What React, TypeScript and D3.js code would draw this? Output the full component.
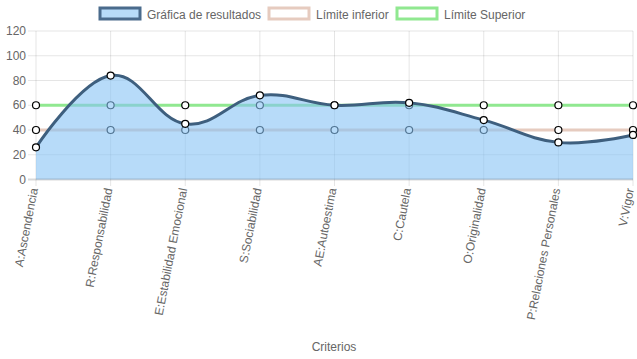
import { useEffect, useRef } from 'react'
import * as d3 from 'd3'

const categories = [
  'A:Ascendencia',
  'R:Responsabilidad',
  'E:Estabilidad Emocional',
  'S:Sociabilidad',
  'AE:Autoestima',
  'C:Cautela',
  'O:Originalidad',
  'P:Relaciones Personales',
  'V:Vigor',
]
const resultados = [26, 84, 45, 68, 60, 62, 48, 30, 36]
const limiteInferior = [40, 40, 40, 40, 40, 40, 40, 40, 40]
const limiteSuperior = [60, 60, 60, 60, 60, 60, 60, 60, 60]
const yTicks = [0, 20, 40, 60, 80, 100, 120]

const W = 637
const H = 359
const FONT = '"Liberation Sans", Arial, Helvetica, sans-serif'

export default function App() {
  const svgRef = useRef<SVGSVGElement>(null)

  useEffect(() => {
    if (!svgRef.current) return
    const svg = d3.select(svgRef.current)
    svg.selectAll('*').remove()

    const x = d3.scalePoint<string>().domain(categories).range([36, 633])
    const y = d3.scaleLinear().domain([0, 120]).range([179.5, 31])

    // grid
    const grid = svg.append('g')
    grid
      .selectAll('line.h')
      .data(yTicks.filter((t) => t !== 0))
      .enter()
      .append('line')
      .attr('x1', 28)
      .attr('x2', 633)
      .attr('y1', (d) => y(d))
      .attr('y2', (d) => y(d))
      .attr('stroke', 'rgba(0,0,0,0.1)')
    grid
      .selectAll('line.v')
      .data(categories)
      .enter()
      .append('line')
      .attr('x1', (d) => x(d)!)
      .attr('x2', (d) => x(d)!)
      .attr('y1', 31)
      .attr('y2', 186)
      .attr('stroke', 'rgba(0,0,0,0.1)')

    // y labels
    svg
      .append('g')
      .selectAll('text')
      .data(yTicks)
      .enter()
      .append('text')
      .attr('x', 26)
      .attr('y', (d) => y(d) + 4)
      .attr('text-anchor', 'end')
      .attr('fill', '#666')
      .style('font-family', FONT)
      .style('font-size', '12px')
      .text((d) => d)

    // x labels
    svg
      .append('g')
      .selectAll('text')
      .data(categories)
      .enter()
      .append('text')
      .attr('transform', (d) => `translate(${Math.min(x(d)! + 2, 634)},189) rotate(-79)`)
      .attr('text-anchor', 'end')
      .attr('fill', '#666')
      .style('font-family', FONT)
      .style('font-size', '12px')
      .text((d) => d)

    svg
      .append('text')
      .attr('x', 334)
      .attr('y', 351)
      .attr('text-anchor', 'middle')
      .attr('fill', '#666')
      .style('font-family', FONT)
      .style('font-size', '12px')
      .text('Criterios')

    const curve = d3.curveCardinal.tension(-0.2)

    const drawLimit = (vals: number[], color: string) => {
      const line = d3
        .line<number>()
        .x((_, i) => x(categories[i])!)
        .y((d) => y(d))
      svg
        .append('path')
        .datum(vals)
        .attr('fill', 'none')
        .attr('stroke', color)
        .attr('stroke-width', 3)
        .attr('d', line)
      svg
        .append('g')
        .selectAll('circle')
        .data(vals)
        .enter()
        .append('circle')
        .attr('cx', (_, i) => x(categories[i])!)
        .attr('cy', (d) => y(d))
        .attr('r', 3.5)
        .attr('fill', '#fff')
        .attr('stroke', '#000')
        .attr('stroke-width', 1.2)
    }
    drawLimit(limiteSuperior, '#90e890')
    drawLimit(limiteInferior, '#e6cbbf')

    // results
    const area = d3
      .area<number>()
      .x((_, i) => x(categories[i])!)
      .y0(y(0))
      .y1((d) => y(d))
      .curve(curve)
    svg
      .append('path')
      .datum(resultados)
      .attr('fill', 'rgba(135,195,245,0.6)')
      .attr('d', area)

    svg
      .append('line')
      .attr('x1', 28)
      .attr('x2', 633)
      .attr('y1', y(0))
      .attr('y2', y(0))
      .attr('stroke', 'rgba(0,0,0,0.15)')
      .attr('stroke-width', 2)

    const line = d3
      .line<number>()
      .x((_, i) => x(categories[i])!)
      .y((d) => y(d))
      .curve(curve)
    svg
      .append('path')
      .datum(resultados)
      .attr('fill', 'none')
      .attr('stroke', '#3e5f7e')
      .attr('stroke-width', 3)
      .attr('d', line)
    svg
      .append('g')
      .selectAll('circle')
      .data(resultados)
      .enter()
      .append('circle')
      .attr('cx', (_, i) => x(categories[i])!)
      .attr('cy', (d) => y(d))
      .attr('r', 3.5)
      .attr('fill', '#fff')
      .attr('stroke', '#000')
      .attr('stroke-width', 1.2)

    // legend
    const legend = [
      { label: 'Gráfica de resultados', x: 100, fill: '#b7dbf8', stroke: '#4a6b8c' },
      { label: 'Límite inferior', x: 269, fill: '#fff', stroke: '#e6cbbf' },
      { label: 'Límite Superior', x: 397, fill: '#fff', stroke: '#90e890' },
    ]
    const lg = svg.append('g')
    legend.forEach((l) => {
      lg.append('rect')
        .attr('x', l.x)
        .attr('y', 8)
        .attr('width', 40)
        .attr('height', 11)
        .attr('fill', l.fill)
        .attr('stroke', l.stroke)
        .attr('stroke-width', 3)
      lg.append('text')
        .attr('x', l.x + 47)
        .attr('y', 19)
        .attr('fill', '#666')
        .style('font-family', FONT)
        .style('font-size', '12px')
        .text(l.label)
    })
  }, [])

  return (
    <div style={{ position: 'absolute', left: 0, top: 0, background: '#fff' }}>
      <svg ref={svgRef} width={W} height={H} />
    </div>
  )
}
